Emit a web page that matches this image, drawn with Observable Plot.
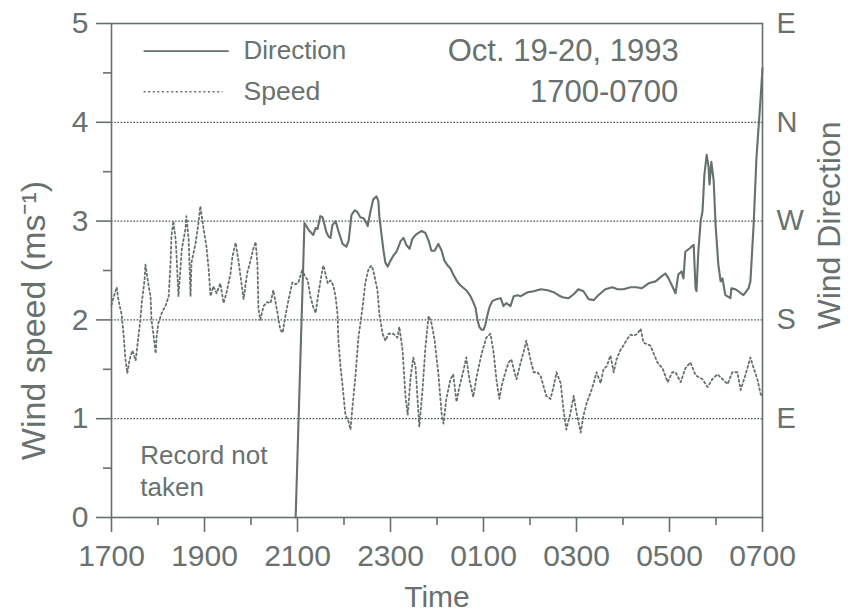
<!DOCTYPE html>
<html>
<head>
<meta charset="utf-8">
<script src="https://cdn.jsdelivr.net/npm/d3@7"></script>
<script src="https://cdn.jsdelivr.net/npm/@observablehq/plot@0.6"></script>
<style>
  html, body { margin: 0; padding: 0; background: #fff; }
  svg { display: block; }
</style>
</head>
<body>
<div id="chart"></div>
<script>
// Time in hours after 1700 (0 = 1700, 14 = 0700 next day)
const timeTicks = [0, 2, 4, 6, 8, 10, 12, 14];
const timeLabels = ["1700", "1900", "2100", "2300", "0100", "0300", "0500", "0700"];
const timeMinorTicks = [1, 3, 5, 7, 9, 11, 13];

const speedTicks = [0, 1, 2, 3, 4, 5];
const speedMinorTicks = [0.5, 1.5, 2.5, 3.5, 4.5];

const dirTicks = [1, 2, 3, 4, 5];
const dirLabels = ["E", "S", "W", "N", "E"];
const gridLevels = [1, 2, 3, 4];

// Wind speed (m/s), dotted series
const speedTime = [0.00,0.04,0.11,0.15,0.22,0.26,0.30,0.34,0.39,0.45,0.52,0.62,0.65,0.71,0.73,0.80,0.84,0.86,0.90,0.95,
  0.97,1.01,1.08,1.16,1.23,1.27,1.29,1.33,1.38,1.40,1.44,1.48,1.51,1.59,1.61,1.66,1.70,1.72,1.81,1.87,
  1.91,1.98,2.04,2.09,2.13,2.19,2.26,2.34,2.41,2.47,2.56,2.60,2.67,2.73,2.80,2.84,2.92,2.99,3.05,3.10,
  3.14,3.16,3.20,3.27,3.35,3.42,3.48,3.57,3.63,3.68,3.74,3.81,3.89,3.96,4.02,4.11,4.15,4.22,4.28,4.34,
  4.39,4.45,4.54,4.56,4.65,4.71,4.77,4.82,4.86,4.88,4.92,4.97,5.03,5.10,5.14,5.18,5.25,5.31,5.40,5.46,
  5.53,5.59,5.63,5.72,5.76,5.83,5.89,5.96,6.06,6.15,6.19,6.26,6.32,6.37,6.43,6.49,6.54,6.58,6.62,6.69,
  6.75,6.82,6.88,6.95,7.03,7.10,7.14,7.20,7.29,7.35,7.42,7.48,7.57,7.63,7.70,7.78,7.85,7.96,8.06,8.15,
  8.22,8.28,8.34,8.39,8.47,8.54,8.60,8.69,8.71,8.80,8.86,8.92,9.01,9.08,9.16,9.23,9.29,9.35,9.44,9.51,
  9.57,9.66,9.72,9.78,9.87,9.94,10.00,10.09,10.15,10.22,10.30,10.37,10.43,10.52,10.58,10.65,10.73,10.80,10.86,10.95,
  11.01,11.08,11.16,11.23,11.31,11.38,11.44,11.59,11.74,11.85,11.96,12.06,12.13,12.24,12.34,12.45,12.56,12.71,12.82,12.92,
  13.03,13.14,13.25,13.35,13.46,13.53,13.63,13.74,13.81,13.89,13.96,14.00];
const speedValue = [2.15,2.22,2.33,2.20,2.05,1.85,1.60,1.46,1.60,1.69,1.59,2.00,2.17,2.40,2.56,2.34,2.24,2.00,1.86,1.66,
  1.83,1.97,2.07,2.14,2.24,2.58,2.85,3.00,2.81,2.64,2.24,2.50,2.71,2.92,3.05,2.81,2.24,2.58,2.78,2.98,
  3.15,2.92,2.75,2.51,2.24,2.34,2.27,2.37,2.17,2.27,2.47,2.64,2.78,2.60,2.35,2.21,2.48,2.60,2.72,2.79,
  2.55,2.11,2.00,2.14,2.18,2.17,2.30,2.07,1.90,1.87,2.04,2.21,2.38,2.36,2.38,2.52,2.45,2.40,2.23,2.13,
  2.07,2.27,2.52,2.55,2.37,2.40,2.35,2.23,2.06,1.79,1.55,1.33,1.04,0.97,0.89,1.11,1.45,1.82,2.13,2.38,
  2.52,2.55,2.50,2.30,2.06,1.86,1.79,1.86,1.86,1.82,1.93,1.69,1.24,1.04,1.41,1.62,1.52,1.21,0.92,1.30,
  1.72,2.04,1.97,1.79,1.45,1.05,0.95,1.20,1.40,1.45,1.17,1.32,1.49,1.62,1.39,1.22,1.42,1.66,1.82,1.86,
  1.66,1.39,1.20,1.33,1.47,1.57,1.60,1.43,1.40,1.57,1.67,1.79,1.60,1.47,1.47,1.43,1.33,1.23,1.20,1.33,
  1.47,1.36,1.09,0.89,1.06,1.23,1.06,0.86,1.03,1.16,1.26,1.36,1.47,1.36,1.50,1.53,1.64,1.47,1.60,1.70,
  1.74,1.80,1.85,1.84,1.86,1.91,1.77,1.74,1.57,1.51,1.37,1.47,1.47,1.37,1.51,1.57,1.44,1.40,1.32,1.40,
  1.45,1.40,1.35,1.47,1.47,1.29,1.44,1.62,1.51,1.40,1.25,1.22];

// Wind direction (1=E, 2=S, 3=W, 4=N, 5=E), solid series; record starts at 2100
const dirTime = [3.96,4.15,4.19,4.24,4.30,4.34,4.39,4.43,4.49,4.54,4.62,4.67,4.71,4.75,4.82,4.88,4.97,5.05,5.10,5.16,
  5.23,5.29,5.35,5.42,5.46,5.51,5.57,5.63,5.70,5.74,5.76,5.81,5.85,5.89,5.94,6.00,6.06,6.13,6.22,6.28,
  6.34,6.41,6.47,6.54,6.60,6.67,6.75,6.82,6.88,6.95,7.03,7.10,7.16,7.23,7.29,7.35,7.42,7.48,7.55,7.63,
  7.72,7.78,7.83,7.87,7.91,7.96,8.00,8.04,8.09,8.13,8.19,8.28,8.37,8.43,8.49,8.58,8.65,8.73,8.80,8.95,
  9.08,9.23,9.38,9.51,9.61,9.70,9.83,9.94,10.04,10.15,10.26,10.37,10.47,10.62,10.77,10.88,11.01,11.16,11.29,11.40,
  11.55,11.70,11.83,11.91,11.98,12.06,12.13,12.19,12.26,12.30,12.34,12.45,12.52,12.56,12.58,12.62,12.67,12.71,12.75,12.80,
  12.84,12.86,12.90,12.95,12.99,13.05,13.10,13.14,13.20,13.31,13.33,13.42,13.48,13.59,13.70,13.74,13.81,13.87,13.96,14.00];
const dirValue = [0.00,2.98,2.95,2.91,2.88,2.86,2.93,2.92,3.05,3.04,2.89,2.84,2.83,2.96,3.00,2.90,2.77,2.74,2.80,3.06,
  3.11,3.09,3.04,3.03,3.00,2.95,3.10,3.22,3.25,3.20,3.05,2.85,2.70,2.58,2.54,2.60,2.65,2.69,2.80,2.83,
  2.76,2.72,2.82,2.86,2.88,2.90,2.88,2.80,2.70,2.70,2.77,2.70,2.60,2.55,2.52,2.46,2.40,2.36,2.33,2.30,
  2.24,2.18,2.12,2.00,1.93,1.90,1.90,1.95,2.06,2.13,2.19,2.21,2.22,2.14,2.17,2.14,2.24,2.25,2.24,2.28,
  2.29,2.31,2.30,2.28,2.25,2.23,2.22,2.26,2.31,2.29,2.21,2.20,2.25,2.31,2.33,2.31,2.31,2.33,2.33,2.32,
  2.37,2.39,2.44,2.47,2.42,2.34,2.27,2.46,2.49,2.42,2.69,2.73,2.76,2.32,2.29,2.69,3.00,3.10,3.47,3.67,
  3.55,3.37,3.60,3.41,2.97,2.56,2.39,2.42,2.25,2.22,2.32,2.31,2.29,2.25,2.32,2.39,2.97,3.64,4.25,4.55];

const speed = speedTime.map((t, i) => ({t, v: speedValue[i]}));
const direction = dirTime.map((t, i) => ({t, v: dirValue[i]}));

const legendDirection = [{label: "Direction", x1: 0.69, x2: 2.52, y: 4.72}];
const legendSpeed = [{label: "Speed", x1: 0.69, x2: 2.39, y: 4.31}];
const legendTextX = 2.84;
const noteDate = [{text: "Oct. 19-20, 1993", t: 7.23, v: 4.72}];
const noteHours = [{text: "1700-0700", t: 12.19, v: 4.31}];
const recordNote = [{text: "Record not\ntaken", t: 0.62, v: 0.48}];

const ink = "#66706e";
const textInk = "#69716f";
const font = "'Liberation Sans', Arial, Helvetica, sans-serif";

const chart = Plot.plot({
  width: 851,
  height: 612,
  marginLeft: 111,
  marginRight: 89,
  marginTop: 23,
  marginBottom: 95,
  x: {domain: [0, 14]},
  y: {domain: [0, 5]},
  style: {fontFamily: font, color: textInk, background: "#fff", fontSize: "30px"},
  marks: [
    Plot.ruleY(gridLevels, {stroke: "#4f5856", strokeWidth: 1.2, strokeDasharray: "1.6,1.6"}),
    Plot.frame({stroke: ink, strokeWidth: 1.6}),
    Plot.axisX({ticks: timeTicks, tickSize: 15, tickPadding: 12, strokeWidth: 1.6, stroke: ink,
      tickFormat: d => timeLabels[timeTicks.indexOf(d)], fontSize: 30, label: null}),
    Plot.axisX({ticks: timeMinorTicks, tickSize: 8, strokeWidth: 1.6, stroke: ink, tickFormat: () => "", label: null}),
    Plot.axisY({ticks: speedTicks, tickSize: 15, tickPadding: 8, strokeWidth: 1.6, stroke: ink,
      tickFormat: d => String(d), fontSize: 30, label: null}),
    Plot.axisY({ticks: speedMinorTicks, tickSize: 8, strokeWidth: 1.6, stroke: ink, tickFormat: () => "", label: null}),
    Plot.axisY({anchor: "right", ticks: dirTicks, tickSize: 0, tickPadding: 14,
      tickFormat: d => dirLabels[dirTicks.indexOf(d)], fontSize: 29, label: null}),
    Plot.text(["Wind speed (ms⁻¹)"], {frameAnchor: "left", textAnchor: "middle", lineAnchor: "middle",
      dx: -77, dy: 50, rotate: -90, fontSize: 34, fill: textInk}),
    Plot.text(["Wind Direction"], {frameAnchor: "right", textAnchor: "middle", lineAnchor: "middle",
      dx: 67, dy: -45, rotate: -90, fontSize: 32, fill: textInk}),
    Plot.text(["Time"], {frameAnchor: "bottom", lineAnchor: "middle", dy: 80, fontSize: 30, fill: textInk}),
    Plot.line(direction, {x: "t", y: "v", stroke: ink, strokeWidth: 2.1, curve: "linear"}),
    Plot.line(speed, {x: "t", y: "v", stroke: ink, strokeWidth: 1.8, strokeDasharray: "2,2.8", curve: "linear"}),
    Plot.link(legendDirection, {x1: "x1", x2: "x2", y1: "y", y2: "y", stroke: ink, strokeWidth: 1.6}),
    Plot.link(legendSpeed, {x1: "x1", x2: "x2", y1: "y", y2: "y", stroke: ink, strokeWidth: 1.5, strokeDasharray: "2,2.6"}),
    Plot.text(legendDirection, {x: () => legendTextX, y: "y", text: "label", textAnchor: "start", fontSize: 26, fill: textInk}),
    Plot.text(legendSpeed, {x: () => legendTextX, y: "y", text: "label", textAnchor: "start", fontSize: 26.5, fill: textInk}),
    Plot.text(noteDate, {x: "t", y: "v", text: "text", textAnchor: "start", fontSize: 31, fill: textInk}),
    Plot.text(noteHours, {x: "t", y: "v", text: "text", textAnchor: "end", fontSize: 31, fill: textInk}),
    Plot.text(recordNote, {x: "t", y: "v", text: "text", textAnchor: "start", lineHeight: 1.2, fontSize: 26, fill: textInk})
  ]
});
document.getElementById("chart").appendChild(chart);
</script>
</body>
</html>
